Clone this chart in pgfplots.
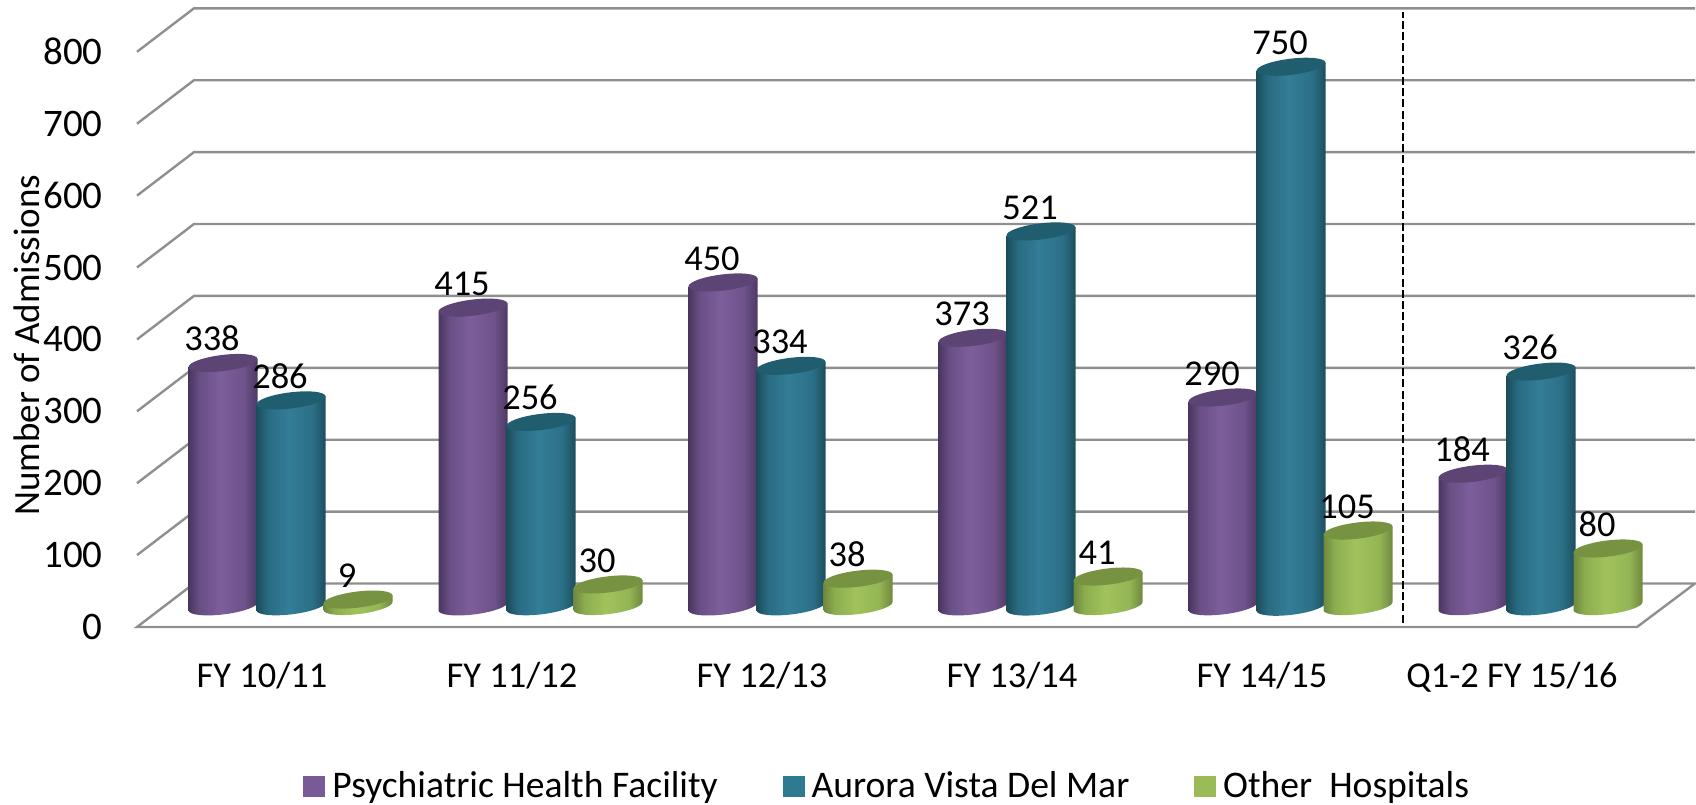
\documentclass[border=0pt]{standalone}
\usepackage{pgfplots}
\pgfplotsset{compat=1.18}
\usepackage{fontspec}
\setmainfont{Carlito}
\definecolor{gridc}{HTML}{8F8F8F}
\definecolor{legP}{HTML}{7A5A96}
\definecolor{legT}{HTML}{2E7A90}
\definecolor{legG}{HTML}{9BBB59}
\definecolor{topP}{HTML}{5C4474}
\definecolor{topT}{HTML}{205D6F}
\definecolor{topG}{HTML}{779240}
\pgfdeclarehorizontalshading{cylP}{100bp}{rgb(0bp)=(0.29,0.21,0.38);rgb(25bp)=(0.29,0.21,0.38);rgb(33bp)=(0.41,0.31,0.52);rgb(48bp)=(0.49,0.37,0.61);rgb(65bp)=(0.43,0.32,0.54);rgb(75bp)=(0.30,0.22,0.39);rgb(100bp)=(0.30,0.22,0.39)}
\pgfdeclarehorizontalshading{cylT}{100bp}{rgb(0bp)=(0.11,0.30,0.36);rgb(25bp)=(0.11,0.30,0.36);rgb(33bp)=(0.16,0.42,0.51);rgb(48bp)=(0.20,0.49,0.59);rgb(65bp)=(0.17,0.44,0.53);rgb(75bp)=(0.11,0.30,0.36);rgb(100bp)=(0.11,0.30,0.36)}
\pgfdeclarehorizontalshading{cylG}{100bp}{rgb(0bp)=(0.43,0.53,0.24);rgb(25bp)=(0.43,0.53,0.24);rgb(33bp)=(0.55,0.68,0.31);rgb(48bp)=(0.63,0.76,0.36);rgb(65bp)=(0.58,0.71,0.33);rgb(75bp)=(0.43,0.53,0.24);rgb(100bp)=(0.43,0.53,0.24)}
\newcommand{\cylmark}[3]{%
  \pgfdeclareplotmark{#1}{%
    \pgfmathsetlengthmacro{\cylh}{\rawy*0.36pt}%
      \path[draw=none,shade,shading=#2]
        (17.25pt,12.6pt) -- (-17.25pt,8.4pt) -- (-17.25pt,{8.4pt-\cylh})
        .. controls (-16.98pt,{6.19pt-\cylh}) and (-9.04pt,{5.34pt-\cylh}) .. (0.49pt,{6.5pt-\cylh})
        .. controls (10.02pt,{7.66pt-\cylh}) and (17.52pt,{10.39pt-\cylh}) .. (17.25pt,{12.6pt-\cylh}) -- cycle;
      \path[draw=none,fill=#3]
        (17.25pt,12.6pt) .. controls (16.98pt,14.81pt) and (9.04pt,15.66pt) .. (-0.49pt,14.5pt)
        .. controls (-10.02pt,13.34pt) and (-17.52pt,10.61pt) .. (-17.25pt,8.4pt)
        .. controls (-16.98pt,6.19pt) and (-9.04pt,5.34pt) .. (0.49pt,6.5pt)
        .. controls (10.02pt,7.66pt) and (17.52pt,10.39pt) .. (17.25pt,12.6pt) -- cycle;
    }}
\cylmark{markP}{cylP}{topP}
\cylmark{markT}{cylT}{topT}
\cylmark{markG}{cylG}{topG}
\newcommand{\fs}{\fontsize{18.2}{20}\selectfont}
\begin{document}
\begin{tikzpicture}
\path[use as bounding box] (0,0) rectangle (848pt,402pt);
\begin{axis}[
  at={(55pt,88.5pt)},anchor=south west,
  x=0.5pt,y=0.3595pt,
  xmin=110,xmax=1696,ymin=0,ymax=872,
  clip=false,
  axis line style={draw=none},
  major tick length=0pt,
  tick style={draw=none},
  /pgf/number format/assume math mode=true,
  tick label style={font=\fs,inner sep=0pt},
  ytick={0,100,...,800},
  yticklabel style={anchor=east,xshift=-3.5pt,font=\fontsize{19.5}{20}\selectfont},
  xtick={262,512,762,1012,1262,1512},
  xticklabels={FY 10/11,FY 11/12,FY 12/13,FY 13/14,FY 14/15,Q1-2 FY 15/16},
  xticklabel style={anchor=base,yshift=-30pt},
  ylabel={Number of Admissions},
  every axis y label/.style={at={(axis cs:27,392)},rotate=90,anchor=center,font=\fontsize{18.5}{20}\selectfont},
  nodes near coords style={font=\fs,anchor=base,inner sep=0pt,xshift=-5.5pt,yshift=16.5pt},
  legend columns=3,
  legend style={draw=none,fill=none,font=\fontsize{18.8}{20}\selectfont,at={(axis cs:303,-221)},anchor=west,inner sep=0pt,
    /tikz/every even column/.style={column sep=30.4pt}},
  legend image code/.code={\fill[#1] (0pt,-5pt) rectangle (10.5pt,5pt);\path (12.1pt,0pt);},
]
\addlegendimage{legP}\addlegendentry{Psychiatric Health Facility}
\addlegendimage{legT}\addlegendentry{Aurora Vista Del Mar}
\addlegendimage{legG}\addlegendentry{Other\ \ Hospitals}
% walls and floor
\addplot[forget plot,gridc,line width=1.2pt] coordinates {(137,100)(194,160.5)(1695,160.5)};
\addplot[forget plot,gridc,line width=1.2pt] coordinates {(137,200)(194,260.5)(1695,260.5)};
\addplot[forget plot,gridc,line width=1.2pt] coordinates {(137,300)(194,360.5)(1695,360.5)};
\addplot[forget plot,gridc,line width=1.2pt] coordinates {(137,400)(194,460.5)(1695,460.5)};
\addplot[forget plot,gridc,line width=1.2pt] coordinates {(137,500)(194,560.5)(1695,560.5)};
\addplot[forget plot,gridc,line width=1.2pt] coordinates {(137,600)(194,660.5)(1695,660.5)};
\addplot[forget plot,gridc,line width=1.2pt] coordinates {(137,700)(194,760.5)(1695,760.5)};
\addplot[forget plot,gridc,line width=1.2pt] coordinates {(137,800)(194,860.5)(1695,860.5)};
\addplot[forget plot,gridc,line width=1.2pt] coordinates {(194,60.5)(1695,60.5)(1637,0)(137,0)(194,60.5)};
\addplot[forget plot,black,line width=0.8pt,dash pattern=on 4pt off 1.6pt] coordinates {(1403,6)(1403,855)};
% series
\addplot[forget plot,only marks,scatter,mark=markP,nodes near coords,
  visualization depends on={y\as\rawy}] coordinates {(223,338)(473,415)(723,450)(973,373)(1223,290)(1473,184)};
\addplot[forget plot,only marks,scatter,mark=markT,nodes near coords,
  visualization depends on={y\as\rawy}] coordinates {(291,286)(541,256)(791,334)(1041,521)(1291,750)(1541,326)};
\addplot[forget plot,only marks,scatter,mark=markG,nodes near coords,
  visualization depends on={y\as\rawy}] coordinates {(358,9)(608,30)(858,38)(1108,41)(1358,105)(1608,80)};
\end{axis}
\end{tikzpicture}
\end{document}
